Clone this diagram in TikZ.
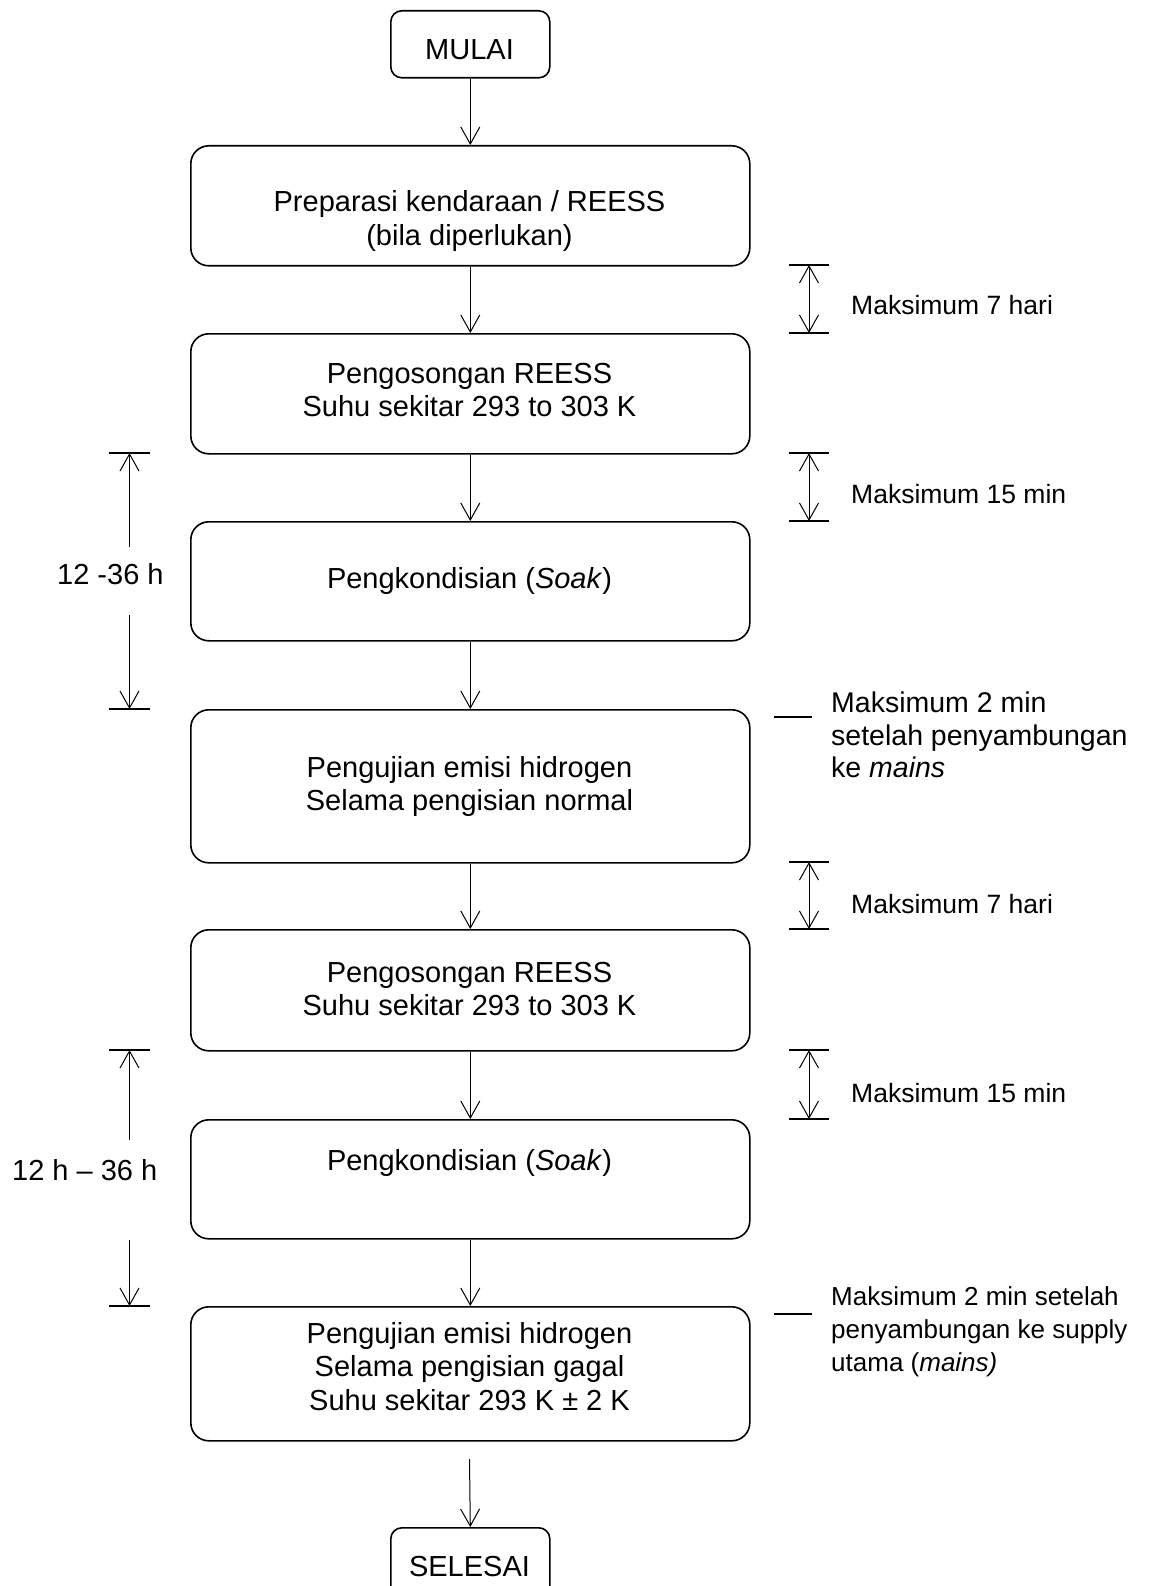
\documentclass[tikz,border=0pt]{standalone}
\usepackage{fontspec}
\setmainfont{Liberation Sans}
\usetikzlibrary{arrows.meta}
\begin{document}
\begin{tikzpicture}[x=1pt,y=-1pt,
  box/.style={draw,line width=1.6pt,rounded corners=18pt,minimum width=559pt,anchor=north west,inner sep=0pt},
  sbox/.style={draw,line width=1.6pt,rounded corners=11pt,minimum width=159pt,anchor=north west,inner sep=0pt},
  txt/.style={font=\fontsize{29}{33.5}\selectfont,align=center,inner sep=0pt},
  lbl/.style={font=\fontsize{26.5}{32}\selectfont,inner sep=0pt},
  note/.style={font=\fontsize{28.5}{32.5}\selectfont,align=left,inner sep=0pt,anchor=west},
  snote/.style={font=\fontsize{26}{33}\selectfont,align=left,inner sep=0pt,anchor=west},
  conn/.style={line width=1pt,-{Straight Barb[length=17pt,width=19pt,line width=1pt]}},
  dimarr/.style={line width=1pt,{Straight Barb[length=17pt,width=19pt,line width=1pt]}-{Straight Barb[length=17pt,width=19pt,line width=1pt]}},
  dimone/.style={line width=1pt,-{Straight Barb[length=17pt,width=19pt,line width=1pt]}},
  tick/.style={line width=1.6pt},
  dashln/.style={line width=1.6pt}
]
\useasboundingbox (0,0) rectangle (1150,1586);

% boxes
\node[sbox,minimum height=67pt] (b0) at (390,10) {};
\node[box,minimum height=120pt] (b1) at (190,145) {};
\node[box,minimum height=120pt] (b2) at (190,333) {};
\node[box,minimum height=119pt] (b3) at (190,521) {};
\node[box,minimum height=153pt] (b4) at (190,709) {};
\node[box,minimum height=121pt] (b5) at (190,929) {};
\node[box,minimum height=119pt] (b6) at (190,1119) {};
\node[box,minimum height=134pt] (b7) at (190,1306) {};
\node[sbox,minimum height=80pt] (b8) at (390,1527) {};

% texts
\node[txt,anchor=base] (t0) at (469.5,59.5) {MULAI};
\node[txt] (t1) at (469.5,221) {Preparasi kendaraan / REESS\\(bila diperlukan)};
\node[txt] (t2) at (469.5,390) {Pengosongan REESS\\Suhu sekitar 293 to 303 K};
\node[txt,anchor=base] (t3) at (469.5,588.5) {Pengkondisian (\textit{Soak})};
\node[txt] (t4) at (469.5,786.5) {Pengujian emisi hidrogen\\Selama pengisian normal};
\node[txt] (t5) at (469.5,989) {Pengosongan REESS\\Suhu sekitar 293 to 303 K};
\node[txt,anchor=base] (t6) at (469.5,1170.5) {Pengkondisian (\textit{Soak})};
\node[txt] (t7) at (469.5,1366.5) {Pengujian emisi hidrogen\\Selama pengisian gagal\\Suhu sekitar 293 K ± 2 K};
\node[txt,anchor=base] (t8) at (469.5,1576.5) {SELESAI};

% main connectors
\draw[conn] (b0.south) -- (b1.north);
\draw[conn] (b1.south) -- (b2.north);
\draw[conn] (b2.south) -- (b3.north);
\draw[conn] (b3.south) -- (b4.north);
\draw[conn] (b4.south) -- (b5.north);
\draw[conn] (b5.south) -- (b6.north);
\draw[conn] (b6.south) -- (b7.north);
\coordinate (c7) at (469.5,1459);
\draw[conn] (c7) -- (b8.north);

% right dimension markers
\coordinate (r1a) at (809,265);  \coordinate (r1b) at (809,333);
\coordinate (r2a) at (809,453);  \coordinate (r2b) at (809,521);
\coordinate (r3a) at (809,862);  \coordinate (r3b) at (809,929);
\coordinate (r4a) at (809,1050); \coordinate (r4b) at (809,1119);
\foreach \c in {r1a,r1b,r2a,r2b,r3a,r3b,r4a,r4b}
  \draw[tick] ([xshift=-20pt]\c) -- ([xshift=20pt]\c);
\draw[dimarr] (r1a) -- (r1b);
\draw[dimarr] (r2a) -- (r2b);
\draw[dimarr] (r3a) -- (r3b);
\draw[dimarr] (r4a) -- (r4b);
\node[lbl,anchor=base west] (m1) at (851,315) {Maksimum 7 hari};
\node[lbl,anchor=base west] (m2) at (851,503) {Maksimum 15 min};
\node[lbl,anchor=base west] (m3) at (851,913) {Maksimum 7 hari};
\node[lbl,anchor=base west] (m4) at (851,1102) {Maksimum 15 min};

% left dimension markers
\coordinate (l1a) at (129.5,453);  \coordinate (l1b) at (129.5,709);
\coordinate (l1u) at (129.5,547);  \coordinate (l1d) at (129.5,615);
\coordinate (l2a) at (129.5,1050); \coordinate (l2b) at (129.5,1306);
\coordinate (l2u) at (129.5,1140); \coordinate (l2d) at (129.5,1240);
\foreach \c in {l1a,l1b,l2a,l2b}
  \draw[tick] ([xshift=-20.5pt]\c) -- ([xshift=20.5pt]\c);
\draw[dimone] (l1u) -- (l1a);
\draw[dimone] (l1d) -- (l1b);
\draw[dimone] (l2u) -- (l2a);
\draw[dimone] (l2d) -- (l2b);
\node[txt,anchor=base west] (h1) at (57,584.5) {12 -36 h};
\node[txt,anchor=base west] (h2) at (12,1180.5) {12 h – 36 h};

% notes
\coordinate (d1a) at (774,717); \coordinate (d1b) at (812,717);
\draw[dashln] (d1a) -- (d1b);
\coordinate (d2a) at (774,1314); \coordinate (d2b) at (812,1314);
\draw[dashln] (d2a) -- (d2b);
\node[note] (n1) at (831,735) {Maksimum 2 min\\setelah penyambungan\\ke \textit{mains}};
\node[snote] (n2) at (831,1332) {Maksimum 2 min setelah\\penyambungan ke supply\\utama (\textit{mains)}};
\end{tikzpicture}
\end{document}
